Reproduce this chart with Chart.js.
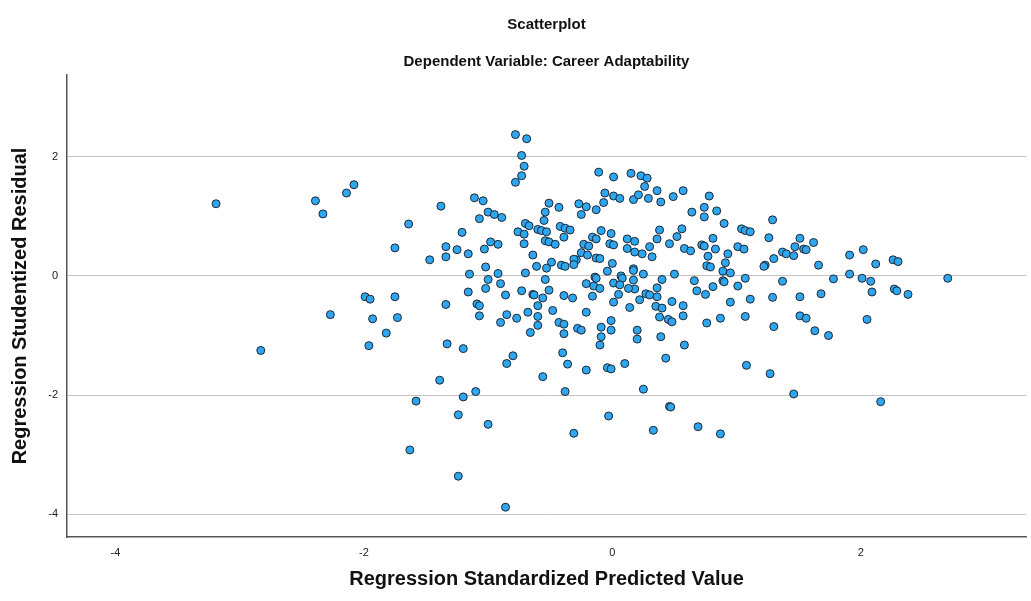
<!DOCTYPE html>
<html>
<head>
<meta charset="utf-8">
<script src="https://cdn.jsdelivr.net/npm/chart.js@4.4.1/dist/chart.umd.min.js"></script>
<style>
html,body{margin:0;padding:0;background:#fff;}
#wrap{width:1031px;height:601px;}
</style>
</head>
<body>
<div id="wrap"><canvas id="c" width="1031" height="601"></canvas></div>
<script>
const titleText = "Scatterplot";
const subtitleText = "Dependent Variable: Career Adaptability";
const xAxisTitle = "Regression Standardized Predicted Value";
const yAxisTitle = "Regression Studentized Residual";
const xTicks = [-4, -2, 0, 2];
const yTicks = [-4, -2, 0, 2];

const predictedValues = [
-3.19,-2.83,-2.39,-2.33,-2.27,-2.14,-2.08,-1.99,-1.95,-1.93,-1.96,-1.82,-1.75,-1.75,-1.73,-1.64,-1.63,-1.58,-1.47,-1.39,-1.38,
-1.34,-1.34,-1.25,-1.34,-1.33,-1.24,-1.24,
-0.78,-0.69,-0.73,-0.71,-0.73,-0.78,-0.11,0.01,0.15,-1.11,-1.04,-0.06,0.01,0.06,0.17,0.21,-0.07,-0.51,-0.27,-0.21,-0.43,-0.13,-0.54,-0.25,-1.00,-0.95,-0.89,-1.07,-0.55,-0.70,-0.67,-0.42,-0.38,-0.34,-0.60,-0.57,-0.53,-0.76,-0.71,-0.09,-0.01,-1.21,
-0.16,-0.13,-0.39,0.12,0.18,-0.98,-0.92,-0.54,-0.51,-0.46,-0.71,-0.23,-0.19,-0.02,0.01,-1.16,-1.03,-0.25,-0.20,0.12,0.18,-0.64,-0.13,-0.10,-0.29,-0.31,0.00,-0.49,-0.41,-0.38,-0.31,-0.61,-0.53,-1.02,0.17,
-1.15,-0.92,-0.70,-0.54,-1.00,-0.90,-1.02,-1.16,-0.73,-0.86,-0.64,-0.63,-0.56,-0.51,-0.39,-0.32,-0.21,-0.14,-0.13,-0.15,-0.10,-0.16,-0.04,0.01,0.07,0.08,0.06,0.17,0.17,0.18,0.13,0.05,0.01,0.14,-0.60,-1.09,-1.07,-1.07,-0.48,-0.68,-0.60,-0.85,-0.77,-0.90,-0.60,-0.66,-0.43,-0.39,-0.39,-0.21,-0.28,-0.25,-0.01,-0.09,-0.01,-0.09,-0.10,0.20,0.20,-1.20,-0.80,-0.85,-0.40,-0.36,-0.56,-0.21,-0.04,-0.01,0.10,-1.20,-1.10,-0.38,
-1.00,-0.31,-0.03,-0.86,
0.23,0.28,0.26,0.29,0.36,0.39,0.49,0.57,0.78,0.64,0.74,0.74,0.84,0.90,1.29,1.04,1.07,1.11,0.38,0.56,0.36,0.52,0.46,0.81,0.30,0.24,0.32,0.58,0.63,0.72,0.74,0.83,0.77,0.93,1.01,1.06,1.26,1.51,1.62,1.47,1.54,1.56,1.37,1.40,1.46,1.30,1.23,0.91,0.76,0.79,1.66,
1.91,2.02,2.12,2.26,2.30,
0.25,0.50,0.40,0.89,0.95,0.66,0.89,0.90,1.07,1.01,1.37,1.22,0.36,0.68,0.75,0.81,0.27,0.30,0.36,0.22,0.48,0.35,0.40,0.57,0.57,0.38,0.45,0.48,0.95,1.11,1.29,1.51,0.76,0.87,1.07,1.51,1.56,1.30,1.63,0.39,0.58,0.43,1.08,1.27,0.25,1.46,0.46,0.47,
0.33,0.69,0.87,
1.78,1.91,2.01,2.08,2.09,2.27,2.29,2.38,2.70,1.68,1.74,2.05,2.16
];

const studentizedResiduals = [
1.21,-1.25,1.26,1.04,-0.65,1.39,1.53,-0.35,-0.39,-0.72,-1.17,-0.96,0.47,-0.35,-0.70,0.87,-2.92,-2.10,0.27,-1.75,1.17,
0.49,0.32,0.44,-0.48,-1.14,-2.33,-3.36,
2.37,2.30,2.02,1.84,1.68,1.57,1.74,1.66,1.72,1.31,1.26,1.39,1.34,1.30,1.28,1.36,1.23,1.22,1.21,1.16,1.15,1.11,1.07,1.03,1.07,1.03,0.98,0.96,0.93,0.88,0.84,0.83,0.80,0.77,0.78,0.76,0.74,0.74,0.70,0.76,0.71,0.73,
0.65,0.62,0.65,0.62,0.58,0.57,0.53,0.59,0.57,0.53,0.54,0.53,0.50,0.54,0.52,0.37,0.45,0.39,0.35,0.46,0.40,0.35,0.30,0.29,0.27,0.28,0.21,0.23,0.18,0.16,0.19,0.16,0.13,0.15,0.12,
0.03,0.04,0.05,-0.06,-0.06,-0.13,-0.21,-0.27,-0.25,-0.32,-0.31,-0.32,-0.37,-0.24,-0.33,-0.37,-0.13,-0.02,-0.04,-0.17,-0.21,-0.34,0.08,-0.12,0.00,-0.04,-0.15,0.09,-0.07,-0.22,-0.21,-0.31,-0.44,-0.53,-0.50,-0.47,-0.50,-0.67,-0.58,-0.61,-0.68,-0.65,-0.71,-0.78,-0.83,-0.95,-0.78,-0.81,-0.97,-0.61,-0.88,-0.91,-0.75,-0.86,-0.91,-1.02,-1.16,-0.91,-1.06,-1.22,-1.34,-1.47,-1.29,-1.48,-1.69,-1.58,-1.54,-1.56,-1.47,-2.03,-1.94,-1.94,
-2.49,-2.64,-2.35,-3.88,
1.68,1.64,1.50,1.30,1.43,1.24,1.33,1.43,1.34,1.07,1.15,0.99,1.09,0.88,0.94,0.79,0.76,0.74,0.77,0.79,0.62,0.66,0.54,0.63,0.49,0.37,0.32,0.46,0.42,0.52,0.50,0.45,0.33,0.37,0.49,0.45,0.64,0.63,0.56,0.49,0.45,0.44,0.40,0.37,0.34,0.29,0.18,0.22,0.17,0.15,0.18,
0.35,0.44,0.20,0.27,0.24,
0.03,0.03,-0.06,0.08,0.05,-0.08,-0.08,-0.10,-0.04,-0.17,-0.09,0.16,-0.20,-0.25,-0.31,-0.18,-0.30,-0.32,-0.35,-0.40,-0.43,-0.51,-0.54,-0.50,-0.67,-0.69,-0.73,-0.77,-0.44,-0.39,-0.36,-0.35,-0.79,-0.71,-0.68,-0.67,-0.71,-0.85,-0.92,-1.02,-1.16,-1.38,-1.50,-1.64,-1.90,-1.98,-2.19,-2.20,
-2.59,-2.53,-2.65,
-0.05,0.03,-0.04,-0.09,-0.27,-0.22,-0.25,-0.31,-0.04,-0.30,-1.00,-0.73,-2.11
];

const points = predictedValues.map((x, i) => ({x: x, y: studentizedResiduals[i]}));

const FONT = "'Liberation Sans', Arial, sans-serif";

new Chart(document.getElementById('c'), {
  type: 'scatter',
  data: {
    datasets: [{
      data: points,
      pointRadius: 4,
      pointHoverRadius: 4,
      pointBackgroundColor: '#2ea6f0',
      pointBorderColor: '#1d2733',
      pointBorderWidth: 1
    }]
  },
  options: {
    responsive: false,
    animation: false,
    events: [],
    layout: { padding: { left: 0, right: 1, top: 0, bottom: 0 } },
    plugins: {
      legend: { display: false },
      tooltip: { enabled: false },
      title: {
        display: true, text: titleText, fullSize: false,
        color: '#111', font: { family: FONT, size: 15, weight: 'bold' },
        padding: { top: 16, bottom: 8 }
      },
      subtitle: {
        display: true, text: subtitleText, fullSize: false,
        color: '#111', font: { family: FONT, size: 15, weight: 'bold' },
        padding: { top: 11, bottom: 4 }
      }
    },
    scales: {
      x: {
        type: 'linear', min: -4.39, max: 3.33,
        afterFit: s => { s.height = 64; },
        afterBuildTicks: s => { s.ticks = xTicks.map(v => ({value: v})); },
        grid: { display: false, drawTicks: false },
        border: { display: true, color: '#555', width: 1.5 },
        ticks: { color: '#222', padding: 9, font: { family: FONT, size: 11 } },
        title: { display: true, text: xAxisTitle, color: '#111',
          font: { family: FONT, size: 20, weight: 'bold' }, padding: { top: 0, bottom: 10 } }
      },
      y: {
        type: 'linear', min: -4.38, max: 3.37,
        afterFit: s => { s.width = 67; },
        afterBuildTicks: s => { s.ticks = yTicks.map(v => ({value: v})); },
        grid: { display: true, drawTicks: false, color: '#c4c4c4', lineWidth: 1 },
        border: { display: true, color: '#555', width: 1.5 },
        ticks: { color: '#222', padding: 9, font: { family: FONT, size: 11 } },
        title: { display: true, text: yAxisTitle, color: '#111',
          font: { family: FONT, size: 20, weight: 'bold' }, padding: { top: 8, bottom: 0 } }
      }
    }
  }
});
</script>
</body>
</html>
